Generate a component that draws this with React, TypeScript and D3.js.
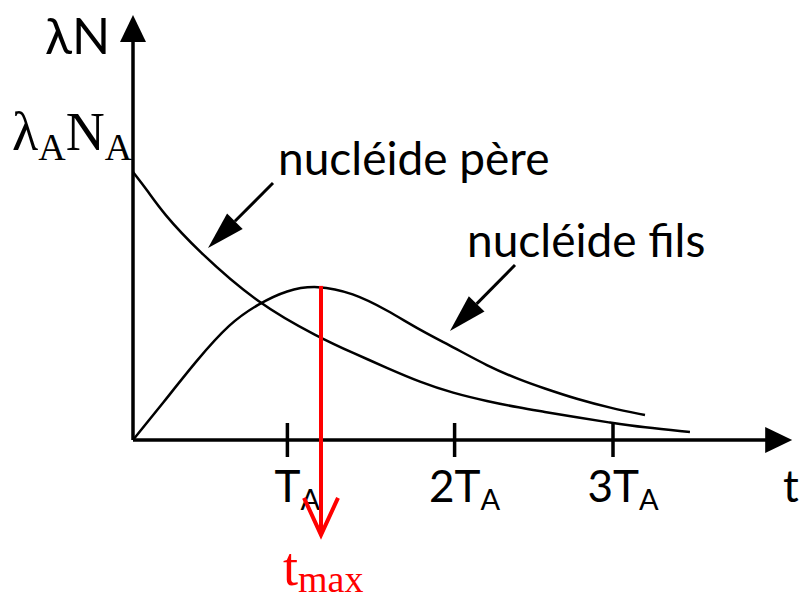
import * as d3 from "d3";

const width = 802;
const height = 600;

// time in units of T_A, activity relative to λA·NA
const parentT = [0, 0.0875, 0.1875, 0.4, 0.781, 1.169, 1.375, 1.5875, 1.794, 2.0, 2.2125, 2.419, 2.5625, 2.775, 2.981, 3.1875, 3.481];
const parentV = [1, 0.933, 0.847, 0.709, 0.507, 0.381, 0.325, 0.269, 0.216, 0.175, 0.145, 0.12, 0.106, 0.084, 0.065, 0.047, 0.03];

const daughterT = [0, 0.1875, 0.4, 0.606, 0.781, 0.9625, 1.15, 1.375, 1.5875, 1.794, 2.0, 2.2125, 2.419, 2.5625, 2.775, 2.981, 3.2];
const daughterV = [0, 0.138, 0.299, 0.437, 0.507, 0.56, 0.578, 0.549, 0.485, 0.41, 0.347, 0.277, 0.224, 0.194, 0.152, 0.12, 0.093];

const tickT = [0.965, 2.01, 3.0];
const tickPrefix = ["", "2", "3"];

const tMax = 1.175;
const vPeak = 0.575;

const BLACK = "#000";
const RED = "#ff0000";
const SANS = "Lato, 'Open Sans', sans-serif";
const SERIF = "'Liberation Serif', 'Times New Roman', serif";

export default function App() {
  const x = d3.scaleLinear().domain([0, 3]).range([133, 613]);
  const y = d3.scaleLinear().domain([0, 1]).range([440, 172]);

  const line = d3.line<[number, number]>()
    .x((d) => x(d[0]))
    .y((d) => y(d[1]))
    .curve(d3.curveBasis);

  const parentPts = parentT.map((t, i) => [t, parentV[i]] as [number, number]);
  const daughterPts = daughterT.map((t, i) => [t, daughterV[i]] as [number, number]);

  // ── filled-head arrow between two data points ──────────────
  const arrow = (t0: number, v0: number, t1: number, v1: number, len: number, half: number) => {
    const x0 = x(t0), y0 = y(v0), x1 = x(t1), y1 = y(v1);
    const dx = x1 - x0, dy = y1 - y0;
    const d = Math.hypot(dx, dy);
    const ux = dx / d, uy = dy / d;
    const bx = x1 - ux * len, by = y1 - uy * len;
    const head = `${x1},${y1} ${bx - uy * half},${by + ux * half} ${bx + uy * half},${by - ux * half}`;
    return (
      <g>
        <line x1={x0} y1={y0} x2={bx} y2={by} stroke={BLACK} strokeWidth={3} />
        <polygon points={head} fill={BLACK} />
      </g>
    );
  };

  const x0 = x(0), y0 = y(0);
  const xEnd = x(4.12);
  const yTop = y(1.586);
  const xm = x(tMax);
  const yBottom = y(-0.354);

  return (
    <svg width={width} height={height} style={{ position: "absolute", left: 0, top: 0, background: "#fff" }}>
      {/* axes */}
      <line x1={x0} y1={y0} x2={xEnd - 20} y2={y0} stroke={BLACK} strokeWidth={3.5} />
      <polygon points={`${xEnd},${y0} ${xEnd - 27},${y0 - 13} ${xEnd - 27},${y0 + 13}`} fill={BLACK} />
      <line x1={x0} y1={y0} x2={x0} y2={yTop + 20} stroke={BLACK} strokeWidth={3.5} />
      <polygon points={`${x0},${yTop} ${x0 - 13},${yTop + 27} ${x0 + 13},${yTop + 27}`} fill={BLACK} />

      {/* ticks */}
      {tickT.map((t, i) => (
        <g key={i}>
          <line x1={x(t)} x2={x(t)} y1={y0 - 17} y2={y0 + 17} stroke={BLACK} strokeWidth={3.5} />
          <text x={x(t) + 10} y={502} textAnchor="middle" fontFamily={SANS} fontSize={44} fill={BLACK}>
            {tickPrefix[i]}T<tspan fontSize={29} dy={8}>A</tspan>
          </text>
        </g>
      ))}

      {/* curves */}
      <path d={line(parentPts) ?? ""} fill="none" stroke={BLACK} strokeWidth={2.5} />
      <path d={line(daughterPts) ?? ""} fill="none" stroke={BLACK} strokeWidth={2.5} />

      {/* t_max marker */}
      <line x1={xm} x2={xm} y1={y(vPeak)} y2={yBottom} stroke={RED} strokeWidth={4} />
      <polyline points={`${xm - 17},${yBottom - 37} ${xm},${yBottom} ${xm + 17},${yBottom - 37}`} fill="none" stroke={RED} strokeWidth={4} />
      <text x={283} y={585} fontFamily={SERIF} fontSize={54} fill={RED}>
        t<tspan fontSize={38} dy={7}>max</tspan>
      </text>

      {/* annotation arrows */}
      {arrow(0.875, 0.959, 0.469, 0.716, 38, 11)}
      {arrow(2.3875, 0.653, 1.981, 0.407, 38, 11)}

      {/* labels */}
      <text x={278} y={175} fontFamily={SANS} fontSize={46} fill={BLACK}>nucléide père</text>
      <text x={467} y={257} fontFamily={SANS} fontSize={46} fill={BLACK}>nucléide fils</text>

      <text x={45} y={54} fontFamily={SANS} fontSize={50} fill={BLACK}>λN</text>
      <text x={12} y={150} fontFamily={SERIF} fontSize={54} fill={BLACK}>
        λ<tspan fontSize={38} dy={10}>A</tspan><tspan dy={-10}>N</tspan><tspan fontSize={38} dy={10}>A</tspan>
      </text>
      <text x={783} y={502} fontFamily={SANS} fontSize={44} fill={BLACK}>t</text>
    </svg>
  );
}
